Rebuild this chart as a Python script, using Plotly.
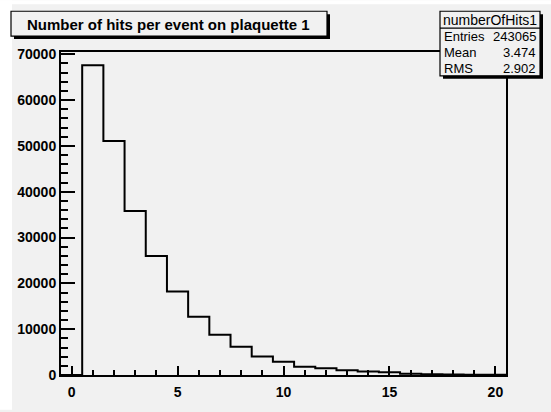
import plotly.graph_objects as go

# Histogram "numberOfHits1": 21 unit-wide bins centred on 0..20
bin_centers = list(range(0, 21))
bin_counts = [0, 67600, 51100, 35800, 26000, 18200, 12700, 8760, 6160, 4060,
              2900, 1820, 1450, 1020, 740, 620, 250, 180, 120, 80, 50]
bin_width = 1.0

title_text = "Number of hits per event on plaquette 1"
stats_name = "numberOfHits1"
stats_rows = [("Entries", "243065"), ("Mean", "3.474"), ("RMS", "2.902")]

x_ticks = [0, 5, 10, 15, 20]
y_ticks = [0, 10000, 20000, 30000, 40000, 50000, 60000, 70000]

# Outline of the histogram as a step line from the bin edges
edges_lo = [c - bin_width / 2 for c in bin_centers]
step_x = [edges_lo[0]] + edges_lo + [edges_lo[-1] + bin_width, edges_lo[-1] + bin_width]
step_y = [0] + bin_counts + [bin_counts[-1], 0]

W, H = 551, 412
L, R, T, B = 61, 45, 52, 35
BG = "#f1f1f1"


def px(xp):
    return (xp - L) / (W - L - R)


def py(yp):
    return (H - B - yp) / (H - T - B)


fig = go.Figure()
fig.add_trace(go.Scatter(
    x=step_x, y=step_y, mode="lines",
    line=dict(color="black", width=2, shape="hv"),
    hoverinfo="skip", showlegend=False,
))

FAM = "Liberation Sans, Arial, sans-serif"
font_axis = dict(family=FAM, size=14, color="black", weight="bold")
font_title = dict(family=FAM, size=15, color="black", weight="bold")
font_stats = dict(family=FAM, size=13, color="black")
font_stats_head = dict(family=FAM, size=14, color="black")

shapes = []
annotations = []

# White strips along the top and left edge of the canvas
shapes.append(dict(type="rect", xref="paper", yref="paper", layer="below",
                   x0=px(0), x1=px(W), y0=py(0), y1=py(4),
                   line=dict(width=0), fillcolor="white"))
shapes.append(dict(type="rect", xref="paper", yref="paper", layer="below",
                   x0=px(0), x1=px(12), y0=py(0), y1=py(H),
                   line=dict(width=0), fillcolor="white"))


def boxed(x0, y0, x1, y1, shadow=3):
    shapes.append(dict(type="rect", xref="paper", yref="paper", layer="above",
                       x0=px(x0 + shadow), x1=px(x1 + shadow),
                       y0=py(y0 + shadow), y1=py(y1 + shadow),
                       line=dict(width=0), fillcolor="black"))
    shapes.append(dict(type="rect", xref="paper", yref="paper", layer="above",
                       x0=px(x0), x1=px(x1), y0=py(y0), y1=py(y1),
                       line=dict(width=1.2, color="black"), fillcolor=BG))


# Title box
boxed(11, 11, 327, 36)
annotations.append(dict(text=title_text, xref="paper", yref="paper",
                        x=px(168), y=py(24), showarrow=False,
                        xanchor="center", yanchor="middle", font=font_title))

# Statistics box
sx0, sx1, sy0, sy1 = 440, 540, 11, 76
boxed(sx0, sy0, sx1, sy1)
shapes.append(dict(type="line", xref="paper", yref="paper", layer="above",
                   x0=px(sx0), x1=px(sx1), y0=py(28), y1=py(28),
                   line=dict(width=1.2, color="black")))
annotations.append(dict(text=stats_name, xref="paper", yref="paper",
                        x=px((sx0 + sx1) / 2), y=py(19.5), showarrow=False,
                        xanchor="center", yanchor="middle", font=font_stats_head))
row_y = [36.5, 52.5, 68.5]
for (name, val), yy in zip(stats_rows, row_y):
    annotations.append(dict(text=name, xref="paper", yref="paper",
                            x=px(sx0 + 2), y=py(yy), showarrow=False,
                            xanchor="left", yanchor="middle", font=font_stats))
    annotations.append(dict(text=val, xref="paper", yref="paper",
                            x=px(sx1 - 2), y=py(yy), showarrow=False,
                            xanchor="right", yanchor="middle", font=font_stats))

fig.update_layout(
    width=W, height=H,
    margin=dict(l=L, r=R, t=T, b=B, pad=0),
    paper_bgcolor=BG, plot_bgcolor=BG,
    shapes=shapes, annotations=annotations,
    showlegend=False,
)
fig.update_xaxes(
    range=[-0.5, 20.5], tickvals=x_ticks, ticktext=[str(v) for v in x_ticks],
    ticks="inside", ticklen=9, tickwidth=2, tickcolor="black",
    minor=dict(dtick=1, tick0=0, ticks="inside", ticklen=5, tickwidth=1.5,
               tickcolor="black", showgrid=False),
    showline=True, linewidth=2, linecolor="black", mirror=True,
    showgrid=False, zeroline=False, tickfont=font_axis, ticklabelstandoff=3,
)
fig.update_yaxes(
    range=[0, 70500], tickvals=y_ticks, ticktext=[str(v) for v in y_ticks],
    ticks="inside", ticklen=14, tickwidth=2, tickcolor="black",
    minor=dict(dtick=2000, tick0=0, ticks="inside", ticklen=7, tickwidth=1.5,
               tickcolor="black", showgrid=False),
    showline=True, linewidth=2, linecolor="black", mirror=True,
    showgrid=False, zeroline=False, tickfont=font_axis,
)

fig.write_html("out.html")
